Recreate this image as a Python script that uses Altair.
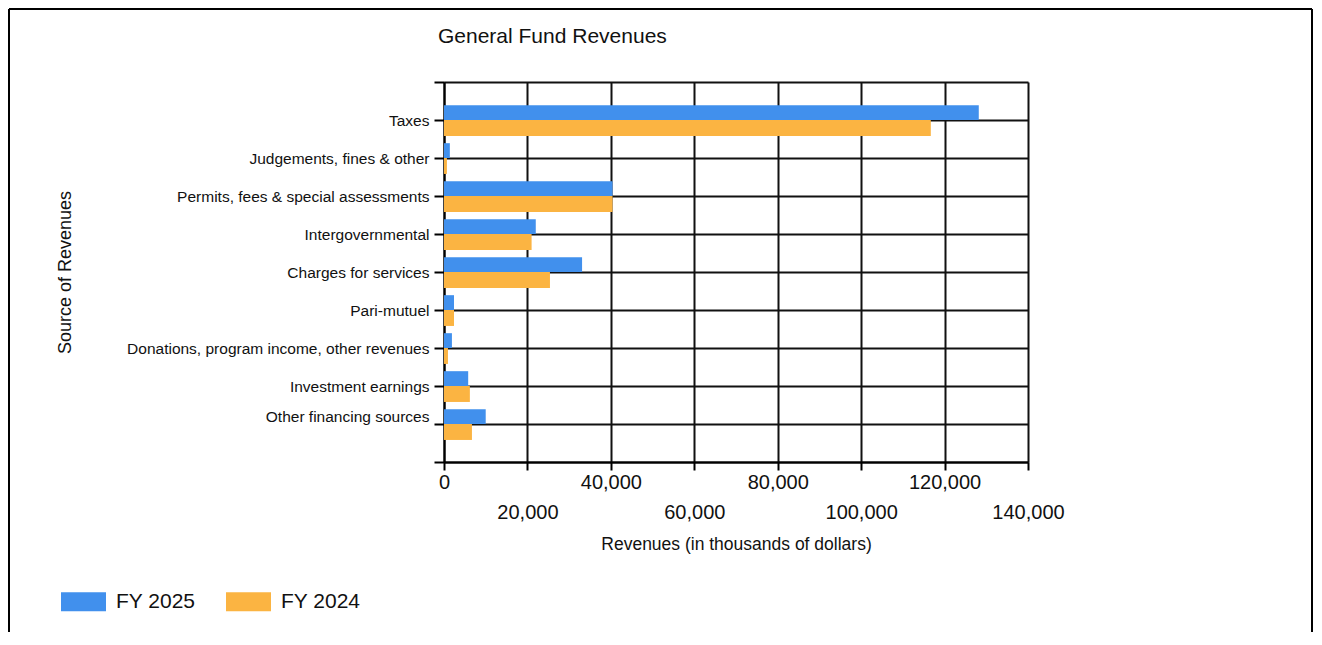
import altair as alt
import pandas as pd

categories = [
    "Taxes",
    "Judgements, fines & other",
    "Permits, fees & special assessments",
    "Intergovernmental",
    "Charges for services",
    "Pari-mutuel",
    "Donations, program income, other revenues",
    "Investment earnings",
    "Other financing sources",
]
fy2025 = [128200, 1400, 40400, 22000, 33100, 2400, 1900, 5800, 10000]
fy2024 = [116700, 700, 40400, 21000, 25400, 2400, 950, 6200, 6700]
series = ["FY 2025", "FY 2024"]
colors = ["#4190ED", "#FBB442"]

rows = []
for i, c in enumerate(categories):
    rows.append({"category": c, "idx": i + 1, "series": series[0], "value": fy2025[i]})
    rows.append({"category": c, "idx": i + 1, "series": series[1], "value": fy2024[i]})
df = pd.DataFrame(rows)

FONT = "Liberation Sans"

names_js = "[" + ",".join('"' + c.replace('"', '\\"') + '"' for c in categories) + "]"
last = len(categories)
y_label_expr = (
    f"(datum.value >= 1 && datum.value <= {last}) ? {names_js}[datum.value-1] : ''"
)
x_label_expr = "(round(datum.value/20000) % 2 == 1) ? ['', datum.label] : datum.label"

bars = (
    alt.Chart(df)
    .transform_calculate(
        y0=f"datum.series == '{series[0]}' ? datum.idx - 0.39 : datum.idx",
        y1=f"datum.series == '{series[0]}' ? datum.idx : datum.idx + 0.42",
    )
    .mark_rect()
    .encode(
        x=alt.X(
            "value:Q",
            scale=alt.Scale(domain=[0, 140000], nice=False, zero=True),
            axis=alt.Axis(
                title="Revenues (in thousands of dollars)",
                values=[0, 20000, 40000, 60000, 80000, 100000, 120000, 140000],
                format=",d",
                labelExpr=x_label_expr,
                labelBaseline="top",
                labelLineHeight=30,
                labelFontSize=20,
                labelPadding=2,
                labelFont=FONT,
                labelColor="#111",
                tickSize=8,
                tickColor="#000",
                tickWidth=2,
                domainColor="#000",
                domainWidth=2,
                grid=True,
                gridColor="#111",
                gridWidth=2,
                titleFont=FONT,
                titleFontSize=17.5,
                titleFontWeight="normal",
                titleColor="#111",
                titlePadding=13,
                labelFlush=False,
                labelOverlap=False,
            ),
        ),
        x2=alt.datum(0),
        y=alt.Y(
            "y0:Q",
            scale=alt.Scale(domain=[0, 10], reverse=True, nice=False, zero=False),
            axis=alt.Axis(
                title="Source of Revenues",
                values=list(range(0, 11)),
                labelExpr=y_label_expr,
                labelBaseline={
                    "condition": {"test": f"datum.value == {last}", "value": "bottom"},
                    "value": "middle",
                },
                labelFontSize=15.5,
                labelFont=FONT,
                labelColor="#111",
                labelPadding=5,
                labelLimit=0,
                tickSize=10,
                tickColor="#000",
                tickWidth=2,
                domainColor="#000",
                domainWidth=2,
                grid=True,
                gridColor="#111",
                gridWidth=2,
                titleFont=FONT,
                titleFontSize=18,
                titleFontWeight="normal",
                titleColor="#111",
                titleX=-379,
                titleY=190,
                titleAngle=270,
                titleAlign="center",
                titleBaseline="middle",
                labelOverlap=False,
                labelFlush=False,
            ),
        ),
        y2="y1:Q",
        color=alt.Color(
            "series:N",
            scale=alt.Scale(domain=series, range=colors),
            sort=series,
            legend=alt.Legend(
                title=None,
                orient="none",
                legendX=-383,
                legendY=497,
                direction="horizontal",
                symbolType="M-1,-0.42H1V0.42H-1Z",
                symbolSize=2025,
                symbolStrokeWidth=0,
                labelFont=FONT,
                labelFontSize=21,
                labelColor="#111",
                labelOffset=10,
                columnPadding=30,
            ),
        ),
    )
)

one = pd.DataFrame({"k": [0]})
frame_left = alt.Chart(one).mark_rule(color="#000", strokeWidth=2).encode(
    x=alt.value(-435), y=alt.value(-73), y2=alt.value(600)
)
frame_top = alt.Chart(one).mark_rule(color="#000", strokeWidth=2).encode(
    x=alt.value(-435), x2=alt.value(868), y=alt.value(-73)
)
frame_right = alt.Chart(one).mark_rule(color="#000", strokeWidth=2).encode(
    x=alt.value(868), y=alt.value(-73), y2=alt.value(600)
)

chart = (
    alt.layer(bars, frame_left, frame_top, frame_right)
    .properties(
        width=584,
        height=380,
        autosize=alt.AutoSizeParams(type="none"),
        padding={"left": 436, "top": 74, "right": 286, "bottom": 170},
        title=alt.TitleParams(
            "General Fund Revenues",
            anchor="start",
            frame="group",
            dx=-6,
            offset=-39,
            font=FONT,
            fontSize=21,
            fontWeight="normal",
            color="#111",
        ),
    )
    .configure_view(stroke="#000", strokeWidth=2)
    .configure(background="white")
)

chart.save("out.html", embed_options={"renderer": "svg", "actions": False})
